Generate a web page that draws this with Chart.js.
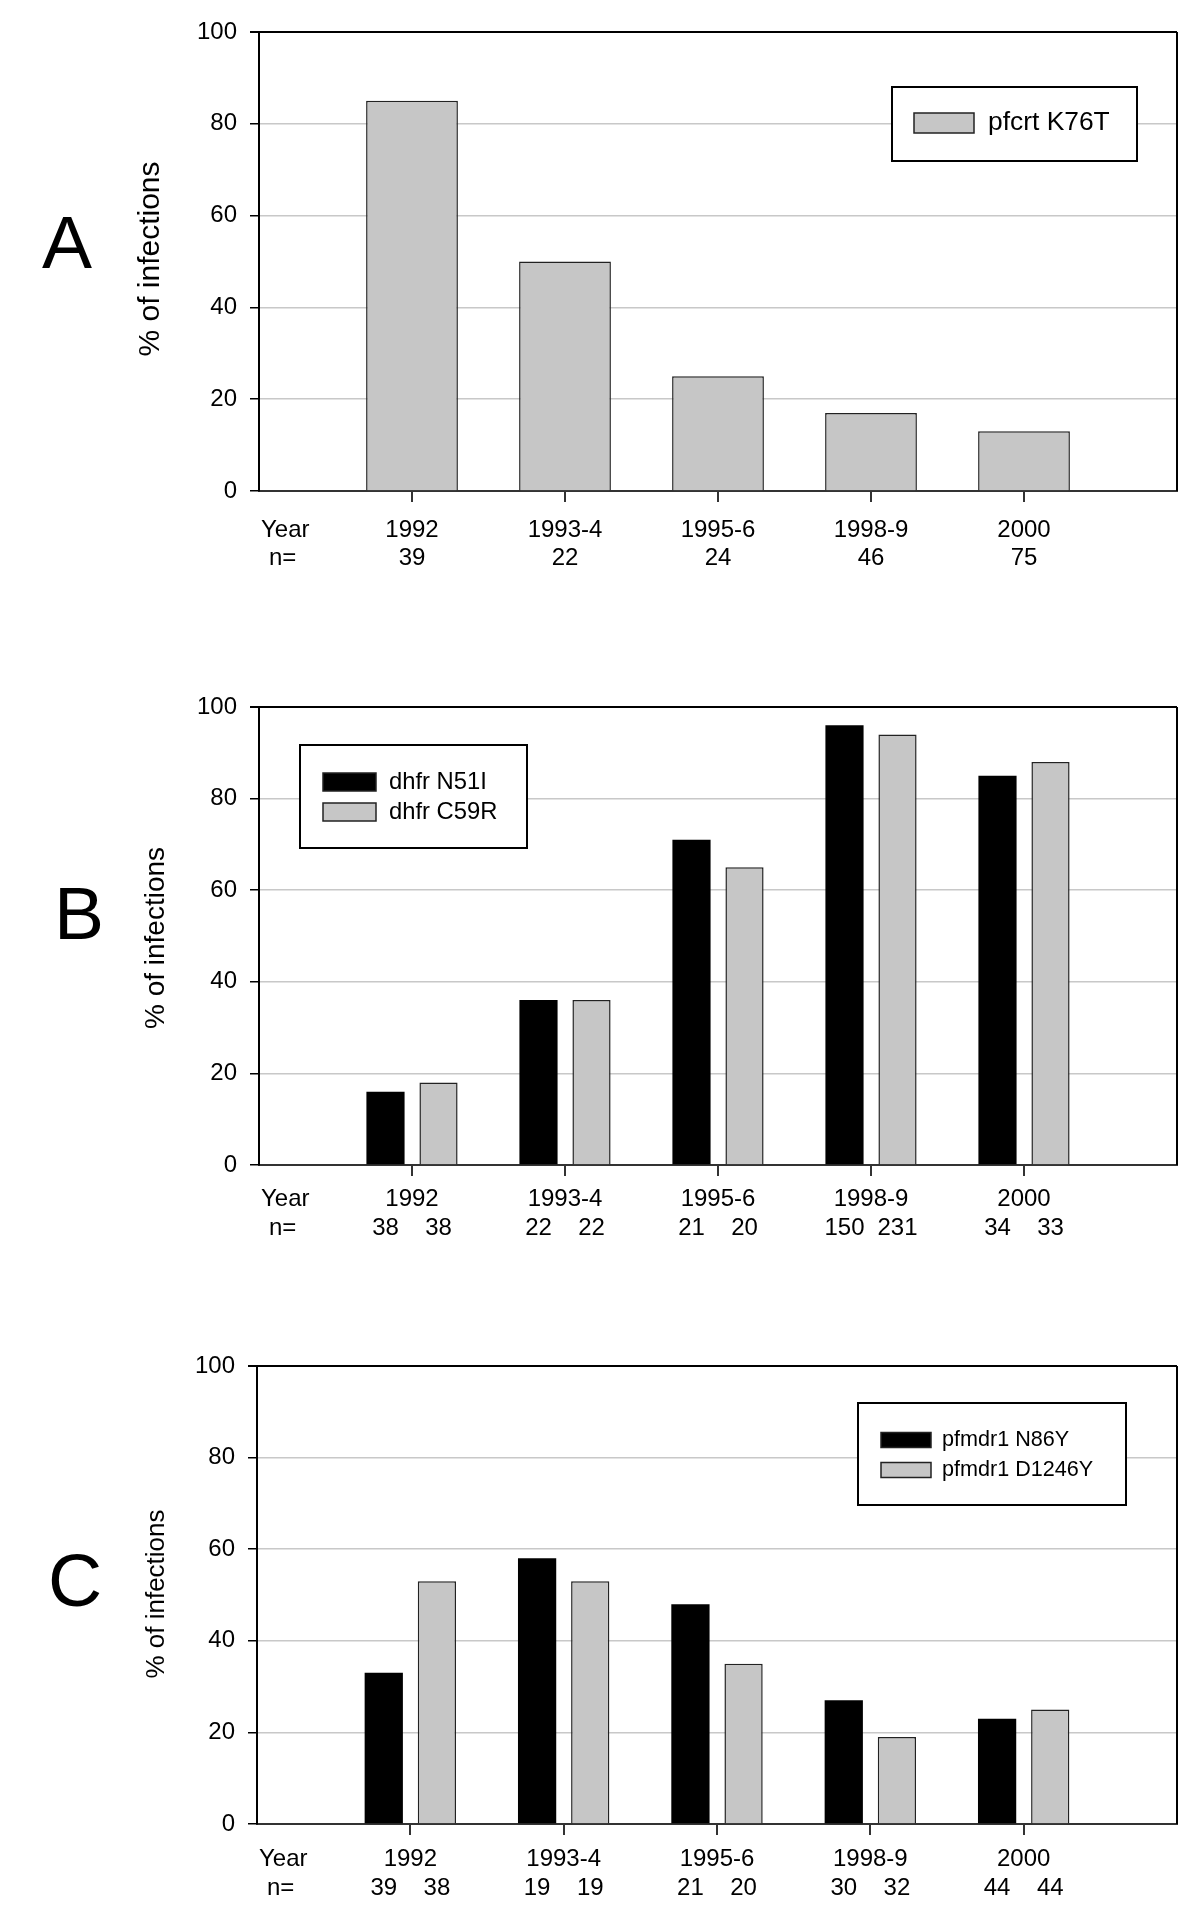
<!DOCTYPE html>
<html>
<head>
<meta charset="utf-8">
<script src="https://cdn.jsdelivr.net/npm/chart.js@4.4.1/dist/chart.umd.min.js"></script>
<style>
  body { margin: 0; background: #fff; }
  .panel { position: absolute; left: 0; width: 1200px; }
</style>
</head>
<body>
<div class="panel" style="top:0;height:640px"><canvas id="chartA"></canvas></div>
<div class="panel" style="top:640px;height:660px"><canvas id="chartB"></canvas></div>
<div class="panel" style="top:1300px;height:626px"><canvas id="chartC"></canvas></div>
<script>
const years = ['1992', '1993-4', '1995-6', '1998-9', '2000']

// panel A
const pfcrtK76T = [85, 50, 25, 17, 13]
const nK76T = [39, 22, 24, 46, 75]

// panel B
const dhfrN51I = [16, 36, 71, 96, 85]
const dhfrC59R = [18, 36, 65, 94, 88]
const nN51I = [38, 22, 21, 150, 34]
const nC59R = [38, 22, 20, 231, 33]

// panel C
const pfmdrN86Y = [33, 58, 48, 27, 23]
const pfmdrD1246Y = [53, 53, 35, 19, 25]
const nN86Y = [39, 19, 21, 30, 44]
const nD1246Y = [38, 19, 20, 32, 44]

const FONT = '"Liberation Sans", Arial, Helvetica, sans-serif'
const GREY = '#c6c6c6'
const BLACK = '#000000'

// layout bits per panel, looked up by canvas id
const layouts = {
  chartA: {
    letter: 'A', letterX: 42, letterY: 268,
    titleX: 151, titleY: 259, titleSize: 30,
    row1: 39, row2: 67,
    legendBox: [892, 87, 1137, 161], swatchX: 914, swatchW: 60, swatchH: 20,
    rows: [123], textX: 988, legendSize: 26.4
  },
  chartB: {
    letter: 'B', letterX: 54, letterY: 299,
    titleX: 156, titleY: 298, titleSize: 28,
    row1: 34, row2: 63,
    legendBox: [300, 105, 527, 208], swatchX: 323, swatchW: 53, swatchH: 18,
    rows: [142, 172], textX: 389, legendSize: 23.8
  },
  chartC: {
    letter: 'C', letterX: 48, letterY: 306,
    titleX: 157, titleY: 294, titleSize: 26,
    row1: 35, row2: 64,
    legendBox: [858, 103, 1126, 205], swatchX: 881, swatchW: 50, swatchH: 15,
    rows: [140, 170], textX: 942, legendSize: 21.6
  }
}

const panelPlugin = {
  id: 'panelDecor',
  afterDraw(chart) {
    const L = layouts[chart.canvas.id]
    const ctx = chart.ctx
    const area = chart.chartArea
    const xs = chart.scales.x
    ctx.save()

    // right side of the frame
    ctx.strokeStyle = '#000'
    ctx.lineWidth = 2
    ctx.beginPath()
    ctx.moveTo(area.right, area.top)
    ctx.lineTo(area.right, area.bottom)
    ctx.stroke()

    ctx.fillStyle = '#000'

    // panel letter
    ctx.font = `75px ${FONT}`
    ctx.textAlign = 'left'
    ctx.textBaseline = 'alphabetic'
    ctx.fillText(L.letter, L.letterX, L.letterY)

    // y title
    ctx.save()
    ctx.translate(L.titleX, L.titleY)
    ctx.rotate(-Math.PI / 2)
    ctx.font = `${L.titleSize}px ${FONT}`
    ctx.textAlign = 'center'
    ctx.textBaseline = 'middle'
    ctx.fillText('% of infections', 0, 0)
    ctx.restore()

    // x labels
    ctx.font = `24px ${FONT}`
    ctx.textBaseline = 'middle'
    ctx.textAlign = 'left'
    ctx.fillText('Year', area.left + 2, area.bottom + L.row1)
    ctx.fillText('n=', area.left + 10, area.bottom + L.row2)
    ctx.textAlign = 'center'
    years.forEach((y, i) => {
      ctx.fillText(y, xs.getPixelForValue(i + 1), area.bottom + L.row1)
    })
    chart.data.datasets.forEach((ds, d) => {
      const meta = chart.getDatasetMeta(d)
      ds.n.forEach((n, i) => {
        ctx.fillText(String(n), meta.data[i + 1].x, area.bottom + L.row2)
      })
    })

    // legend
    const [bx0, by0, bx1, by1] = L.legendBox
    ctx.fillStyle = '#fff'
    ctx.fillRect(bx0, by0, bx1 - bx0, by1 - by0)
    ctx.strokeStyle = '#000'
    ctx.lineWidth = 2
    ctx.strokeRect(bx0, by0, bx1 - bx0, by1 - by0)
    ctx.font = `${L.legendSize}px ${FONT}`
    ctx.textAlign = 'left'
    chart.data.datasets.forEach((ds, d) => {
      const cy = L.rows[d]
      ctx.fillStyle = ds.backgroundColor
      ctx.fillRect(L.swatchX, cy - L.swatchH / 2, L.swatchW, L.swatchH)
      ctx.strokeStyle = '#222'
      ctx.lineWidth = 1.5
      ctx.strokeRect(L.swatchX, cy - L.swatchH / 2, L.swatchW, L.swatchH)
      ctx.fillStyle = '#000'
      ctx.fillText(ds.label, L.textX, cy)
    })
    ctx.restore()
  }
}

const pad = arr => [null, ...arr, null]

const setupChart = (id, series, opts) => {
  const datasets = series.map(s => {
    return {
      label: s.label,
      data: pad(s.values),
      n: s.n,
      backgroundColor: s.color,
      borderColor: s.color === BLACK ? BLACK : '#222',
      borderWidth: s.color === BLACK ? 0 : 1.5,
      categoryPercentage: opts.cp,
      barPercentage: opts.bp
    }
  })

  return new Chart(document.getElementById(id), {
    type: 'bar',
    data: {
      labels: ['', ...years, ''],
      datasets
    },
    options: {
      responsive: true,
      maintainAspectRatio: false,
      animation: false,
      layout: { padding: { top: opts.top, right: 23, left: 0, bottom: 0 } },
      plugins: { legend: { display: false }, tooltip: { enabled: false } },
      scales: {
        x: {
          offset: false,
          grid: {
            offset: false,
            drawOnChartArea: false,
            tickLength: 11,
            lineWidth: 2,
            tickColor: c => (c.index === 0 || c.index === 6) ? 'rgba(0,0,0,0)' : '#333'
          },
          border: { color: '#333', width: 2 },
          ticks: { display: false },
          afterFit: s => { s.height = opts.xh }
        },
        y: {
          min: 0,
          max: 100,
          ticks: {
            stepSize: 20,
            color: '#000',
            padding: 13,
            font: { family: FONT, size: 24 }
          },
          grid: {
            color: c => c.tick.value === 100 ? '#000' : '#c8c8c8',
            lineWidth: c => c.tick.value === 100 ? 2 : 1.5,
            tickLength: 9,
            tickColor: '#000'
          },
          border: { color: '#000', width: 2 },
          afterFit: s => { s.width = opts.left }
        }
      }
    },
    plugins: [panelPlugin]
  })
}

setupChart('chartA', [
  { label: 'pfcrt K76T', values: pfcrtK76T, n: nK76T, color: GREY }
], { cp: 1, bp: 0.6, top: 32, xh: 149, left: 259 })

setupChart('chartB', [
  { label: 'dhfr N51I', values: dhfrN51I, n: nN51I, color: BLACK },
  { label: 'dhfr C59R', values: dhfrC59R, n: nC59R, color: GREY }
], { cp: 0.693, bp: 0.72, top: 67, xh: 135, left: 259 })

setupChart('chartC', [
  { label: 'pfmdr1 N86Y', values: pfmdrN86Y, n: nN86Y, color: BLACK },
  { label: 'pfmdr1 D1246Y', values: pfmdrD1246Y, n: nD1246Y, color: GREY }
], { cp: 0.693, bp: 0.72, top: 66, xh: 102, left: 257 })
</script>
</body>
</html>
